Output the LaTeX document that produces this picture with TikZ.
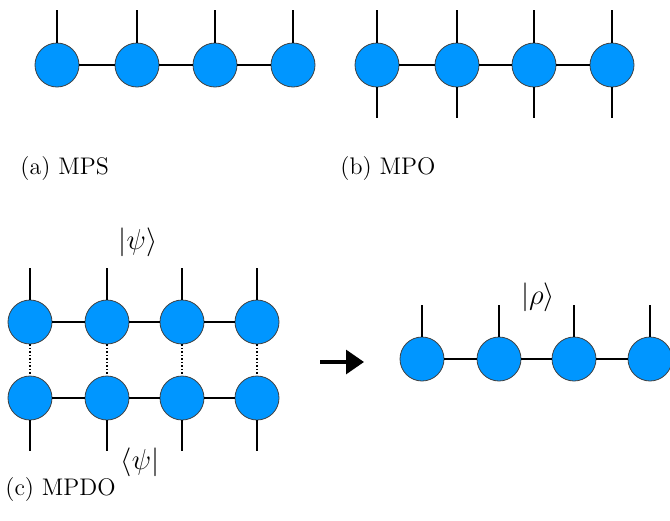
\documentclass[tikz,border=0pt]{standalone}
\usetikzlibrary{arrows.meta}
\definecolor{tensorblue}{RGB}{0,150,255}
\tikzset{
  tensor/.style={circle,draw=black!75,fill=tensorblue,minimum size=22pt,inner sep=0pt},
  leg/.style={line width=0.75pt},
  thickleg/.style={line width=1.3pt},
  caption/.style={anchor=west,font=\large,inner sep=0pt}
}
\begin{document}
\begin{tikzpicture}[x={(0.5pt,0)},y={(0,-0.5pt)}]
      \useasboundingbox (0,0) rectangle (670,520);
      % (a) MPS
      \foreach \x [count=\i] in {57,137,215,293}
      { \node[tensor] at (\x,65) (A-\i) {};
        \draw[leg] (A-\i.north) -- ++(0,-33);
      }
      \foreach \i/\j in {1/2,2/3,3/4}
       { \draw[leg] (A-\i) -- (A-\j);}
      \node[caption] at (20,169) (capA) {(a) MPS};
      % (b) MPO
      \foreach \x [count=\i] in {377,457,534,612}
      { \node[tensor] at (\x,65) (B-\i) {};
        \draw[leg] (B-\i.north) -- ++(0,-33);
        \draw[leg] (B-\i.south) -- ++(0,31);
      }
      \foreach \i/\j in {1/2,2/3,3/4}
       { \draw[leg] (B-\i) -- (B-\j);}
      \node[caption] at (340,169) (capB) {(b) MPO};
      % (c) MPDO
      \foreach \x [count=\i] in {30,107,182,257}
      { \node[tensor] at (\x,322) (K-\i) {};
        \node[tensor] at (\x,398) (L-\i) {};
        \draw[leg] (K-\i.north) -- ++(0,-32);
        \draw[leg] (L-\i.south) -- ++(0,31);
        \draw[leg,densely dotted] (K-\i) -- (L-\i);
      }
      \foreach \i/\j in {1/2,2/3,3/4}
       { \draw[leg] (K-\i) -- (K-\j);
         \draw[leg] (L-\i) -- (L-\j);}
      \node[font=\Large] at (138,242) (ket) {$|\psi\rangle$};
      \node[font=\Large] at (140,462) (bra) {$\langle\psi|$};
      \node[caption] at (5,490) (capC) {(c) MPDO};
      % arrow
      \coordinate (arr-s) at (320,362);
      \coordinate (arr-e) at (364,362);
      \draw[line width=1.6pt,-{Triangle[length=9pt,width=12pt]}] (arr-s) -- (arr-e);
      % rho
      \foreach \x [count=\i] in {422,499,574,650}
      { \node[tensor] at (\x,359) (R-\i) {};
        \draw[thickleg] (R-\i.north) -- ++(0,-32);
      }
      \foreach \i/\j in {1/2,2/3,3/4}
       { \draw[thickleg] (R-\i) -- (R-\j);}
      \node[font=\Large] at (538,297) (rho) {$|\rho\rangle$};
\end{tikzpicture}
\end{document}
